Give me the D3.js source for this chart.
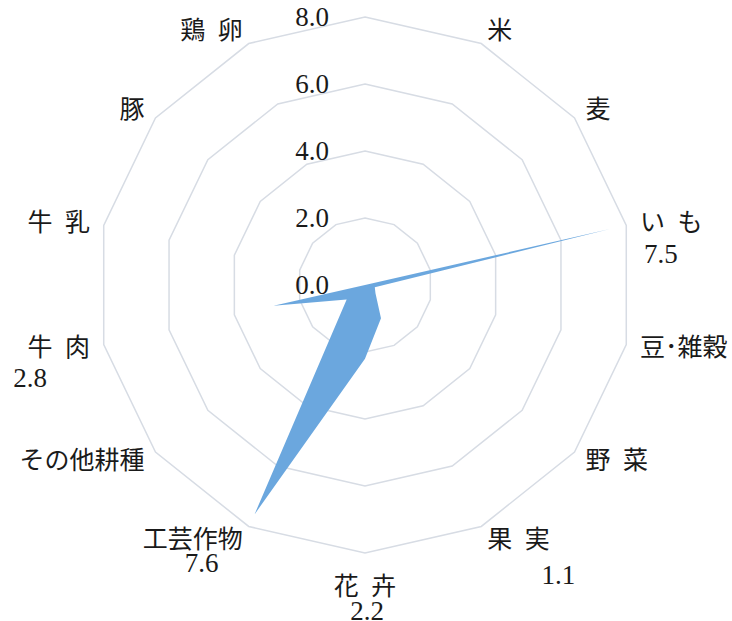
<!DOCTYPE html>
<html>
<head>
<meta charset="utf-8">
<script src="https://cdn.jsdelivr.net/npm/d3@7"></script>
<style>
  body { margin: 0; background: #fff; }
  svg text { font-family: "Liberation Serif", "Noto Sans CJK JP", serif; fill: #1a1a1a; }
</style>
</head>
<body>
<svg id="chart" width="732" height="621"></svg>
<script>
"use strict";

// categories, clockwise from the top (the first one has no label)
var categories = ["", "米", "麦", "い\u2002も", "豆\uFF65雑穀", "野\u2002菜", "果\u2002実", "花\u2002卉",
	"工芸作物", "その他耕種", "牛\u2002肉", "牛\u2002乳", "豚", "鶏\u2002卵"];
var values = [0.0, 0.4, 0.0, 7.5, 0.3, 0.4, 1.1, 2.2, 7.6, 0.7, 2.8, 0.0, 0.7, 0.0];
var tickValues = [0, 2, 4, 6, 8];
// value labels shown only for some categories
var labelled = ["い\u2002も", "果\u2002実", "花\u2002卉", "工芸作物", "牛\u2002肉"];
var labelText = ["7.5", "1.1", "2.2", "7.6", "2.8"];

var svg = d3.select('#chart');
var cx = 365, cy = 285, radius = 268;

var r = d3.scaleLinear().domain([0, 8]).range([0, radius]);
var angle = d3.scalePoint()
	.domain(d3.range(categories.length + 1))
	.range([0, 2 * Math.PI]);

function px(i, v) { return cx + r(v) * Math.sin(angle(i)); }
function py(i, v) { return cy - r(v) * Math.cos(angle(i)); }

var defs = svg.append('defs');
var grad = defs.append('linearGradient')
	.attr('id', 'fillGrad')
	.attr('gradientUnits', 'userSpaceOnUse')
	.attr('x1', 0).attr('y1', py(0, 0.5))
	.attr('x2', 0).attr('y2', py(8, 7.6));
grad.append('stop').attr('offset', 0).attr('stop-color', '#6ba7de');
grad.append('stop').attr('offset', 1).attr('stop-color', '#3d82d0');

// grid rings
var g = svg.append('g');
g.selectAll('.ring')
	.data(tickValues.slice(1))
	.enter()
	.append('polygon')
	.attr('class', 'ring')
	.attr('points', function(t) {
		return categories.map(function(c, i) { return px(i, t) + ',' + py(i, t); }).join(' ');
	})
	.attr('fill', 'none')
	.attr('stroke', '#d7dce4')
	.attr('stroke-width', 1.5);

// series area
var line = d3.lineRadial()
	.angle(function(d, i) { return angle(i); })
	.radius(function(d) { return r(d); })
	.curve(d3.curveLinearClosed);

g.append('path')
	.attr('transform', 'translate(' + cx + ',' + cy + ')')
	.attr('d', line(values))
	.attr('fill', 'url(#fillGrad)')
	.attr('stroke', 'none');

// tick labels on the vertical axis
g.selectAll('.tick-label')
	.data(tickValues)
	.enter()
	.append('text')
	.attr('class', 'tick-label')
	.attr('x', cx - 36)
	.attr('y', function(t) { return cy - r(t); })
	.attr('text-anchor', 'end')
	.attr('dominant-baseline', 'central')
	.style('font-size', '27px')
	.text(function(t) { return d3.format('.1f')(t); });

// category labels
function labelPos(i) {
	var a = angle(i);
	var s = Math.sin(a);
	var anchor = Math.abs(s) < 0.1 ? 'middle' : (s > 0 ? 'start' : 'end');
	var rr = anchor === 'middle' ? radius + 33 : radius + 14;
	return { x: cx + rr * s, y: cy - rr * Math.cos(a), anchor: anchor };
}

g.selectAll('.cat-label')
	.data(categories)
	.enter()
	.append('text')
	.attr('class', 'cat-label')
	.each(function(d, i) {
		var p = labelPos(i);
		d3.select(this)
			.attr('x', p.x)
			.attr('y', p.y)
			.attr('text-anchor', p.anchor);
	})
	.attr('dominant-baseline', 'central')
	.style('font-size', '25px')
	.text(function(d) { return d; });

// value labels, placed under their category label
var valueOffsets = {
	"い\u2002も": [21, 32],
	"果\u2002実": [71, 36],
	"花\u2002卉": [2, 25],
	"工芸作物": [-41, 24],
	"牛\u2002肉": [-60, 30]
};
g.selectAll('.value-label')
	.data(labelled)
	.enter()
	.append('text')
	.attr('class', 'value-label')
	.each(function(d, k) {
		var i = categories.indexOf(d);
		var p = labelPos(i);
		var off = valueOffsets[d];
		d3.select(this)
			.attr('x', p.x + off[0])
			.attr('y', p.y + off[1])
			.text(labelText[k]);
	})
	.attr('text-anchor', 'middle')
	.attr('dominant-baseline', 'central')
	.style('font-size', '27px');
</script>
</body>
</html>
